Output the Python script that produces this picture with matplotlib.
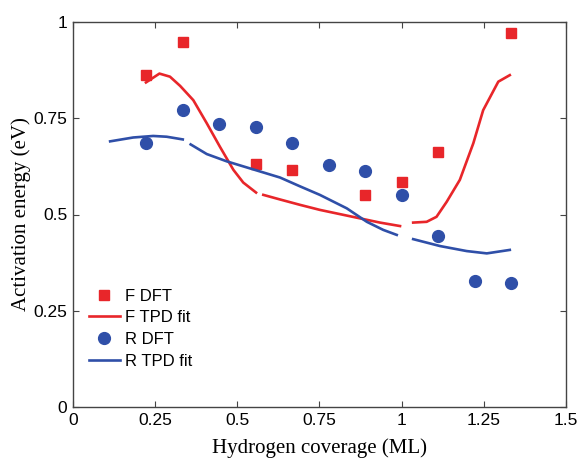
import numpy as np
import matplotlib
matplotlib.use("Agg")
import matplotlib.pyplot as plt

nan = np.nan
# DFT points
dft_x = [2/9, 3/9, 4/9, 5/9, 6/9, 7/9, 8/9, 1.0, 10/9, 11/9, 12/9]
f_dft_x = [2/9, 3/9, 5/9, 6/9, 8/9, 1.0, 10/9, 12/9]
f_dft_y = [0.863, 0.949, 0.631, 0.615, 0.551, 0.585, 0.663, 0.971]
r_dft_y = [0.687, 0.772, 0.736, 0.726, 0.685, 0.629, 0.612, 0.551, 0.444, 0.326, 0.323]

# TPD fits (NaN marks gaps)
f_fit_x = [0.222, 0.263, 0.295, 0.326, 0.366, 0.407, 0.447, 0.488, 0.518, 0.557, nan,
           0.579, 0.630, 0.691, 0.751, 0.873, 0.934, 0.995, nan,
           1.035, 1.076, 1.106, 1.137, 1.177, 1.218, 1.248, 1.294, 1.329]
f_fit_y = [0.843, 0.866, 0.858, 0.834, 0.797, 0.737, 0.676, 0.616, 0.583, 0.557, nan,
           0.551, 0.539, 0.525, 0.512, 0.490, 0.479, 0.470, nan,
           0.479, 0.481, 0.494, 0.533, 0.590, 0.685, 0.771, 0.845, 0.862]
r_fit_x = [0.113, 0.183, 0.244, 0.285, 0.334, nan,
           0.358, 0.407, 0.468, 0.549, 0.630, 0.691, 0.751, 0.833, 0.894, 0.944, 0.985, nan,
           1.035, 1.117, 1.198, 1.259, 1.329]
r_fit_y = [0.690, 0.700, 0.704, 0.702, 0.695, nan,
           0.682, 0.657, 0.638, 0.617, 0.596, 0.573, 0.551, 0.516, 0.481, 0.460, 0.447, nan,
           0.436, 0.418, 0.405, 0.399, 0.408]

xticks = [0, 0.25, 0.5, 0.75, 1, 1.25, 1.5]
xticklabels = ["0", "0.25", "0.5", "0.75", "1", "1.25", "1.5"]
yticks = [0, 0.25, 0.5, 0.75, 1]
yticklabels = ["0", "0.25", "0.5", "0.75", "1"]

RED = "#e8262a"
BLUE = "#2f4fa8"

fig = plt.figure(figsize=(5.77, 4.59), dpi=100)
ax = fig.add_axes([73/577, 1 - 407/459, (566-73)/577, (407-22)/459])

ax.plot(f_dft_x, f_dft_y, linestyle="none", marker="s", color=RED, markersize=7, label="F DFT")
ax.plot(f_fit_x, f_fit_y, color=RED, lw=1.9, label="F TPD fit")
ax.plot(dft_x, r_dft_y, linestyle="none", marker="o", color=BLUE, markersize=8.5, label="R DFT")
ax.plot(r_fit_x, r_fit_y, color=BLUE, lw=1.9, label="R TPD fit")

ax.set_xlim(0, 1.5)
ax.set_ylim(0, 1)
ax.set_xticks(xticks)
ax.set_xticklabels(xticklabels, family="Liberation Sans", fontsize=12.5)
ax.set_yticks(yticks)
ax.set_yticklabels(yticklabels, family="Liberation Sans", fontsize=12.5)
ax.tick_params(direction="in", top=True, right=True, length=4, color="#444444", pad=4)
for s in ax.spines.values():
    s.set_color("#444444")
    s.set_linewidth(1.0)

ax.set_xlabel("Hydrogen coverage (ML)", family="Liberation Serif", fontsize=15, labelpad=8)
ax.set_ylabel("Activation energy (eV)", family="Liberation Serif", fontsize=15, labelpad=2)

leg = ax.legend(loc="upper left", bbox_to_anchor=(0.018, 0.325), frameon=False,
                prop={"family": "Liberation Sans", "size": 12},
                handlelength=1.9, handletextpad=0.3, labelspacing=0.4, borderaxespad=0)

fig.savefig("out.png", dpi=100)
